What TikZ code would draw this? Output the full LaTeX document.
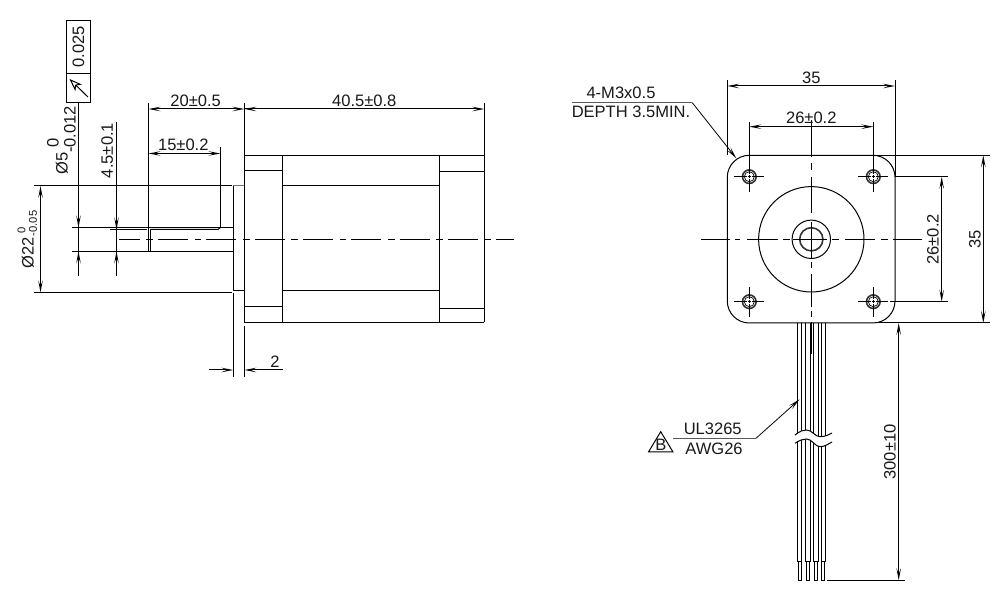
\documentclass[tikz,border=0pt]{standalone}
\usepackage{fontspec}
\setmainfont{Liberation Sans}
\usetikzlibrary{arrows.meta,calc}
\tikzset{
  x=0.75pt,y=-0.75pt,
  ln/.style={line width=0.75pt,black},
  endtip/.style={ln,-{Stealth[length=9pt,width=3.4pt,inset=4pt,open]}},
  dim/.style={ln,{Stealth[length=9pt,width=3.4pt,inset=4pt,open]}-{Stealth[length=9pt,width=3.4pt,inset=4pt,open]}},
  cl/.style={ln,dash pattern=on 22.5pt off 5pt on 5pt off 3.75pt},
  lab/.style={inner sep=0pt,font=\fontsize{12.4}{14}\selectfont,text=black!90},
  rlab/.style={lab,rotate=90},
  small/.style={font=\fontsize{8.4}{10}\selectfont},
}
\begin{document}
\begin{tikzpicture}
\useasboundingbox (0,0) rectangle (1007,609);
\fill[white] (0,0) rectangle (1007,609);

% ---------- side view points
\foreach \n/\x/\y in {
  e20a/148.5/103, e20b/148.5/251.3, e15a/220.5/147, e15b/220.5/227.5,
  eFa/244.4/103, eFb/244.4/155.3, eRa/484.3/103, eRb/484.3/322.3,
  e5a/78.5/103, e5b/78.5/275.7, e45a/116.5/122, e45b/116.5/275.7,
  d20a/148.5/109, d20b/244.4/109, d40b/484.3/109, d40o/257/109,
  d15a/148.5/153.5, d15b/220.5/153.5,
  dia22a/34/186, dia22b/232/186, dia22c/34/292.5, dia22d/232/292.5,
  d22a/40.5/186, d22b/40.5/292.5,
  sfa/72/227.5, sfb/233.3/227.5, sfc/72/251.3, sfd/233.3/251.3,
  kwa/110/229.5, kwb/146.5/229.5, kwc/151/229.5, kwd/218/229.5,
  clsA/119/239.4, clsB/514/239.4,
  d5t/78.5/227.5, d5u/78.5/205, d5v/78.5/251.3, d5w/78.5/273,
  d45t/116.5/229.5, d45u/116.5/205, d45v/116.5/251.3, d45w/116.5/273,
  p2a/233.3/293, p2b/233.3/376.6, f2a/244.4/326, f2b/244.4/376.6,
  d2L/209/370, d2a/233.3/370, d2b/244.4/370, d2R/283/370,
  ta/88/97, tb/69.5/79
}{\coordinate (\n) at (\x,\y);}

% tolerance frame
\node[draw,ln,minimum width=18pt,minimum height=39.4pt,inner sep=0pt] (tolA) at (78.5,47) {};
\node[draw,ln,minimum width=18pt,minimum height=22.1pt,inner sep=0pt] (tolB) at (78.5,88.2) {};
\node[rlab] (tolT) at (78.5,47) {0.025};
\draw[ln,-{Stealth[length=9.5pt,width=7pt,inset=2.5pt,open]}] (ta) -- (tb);

% extension lines
\draw[ln] (e5a) -- (e5b);
\draw[ln] (e45a) -- (e45b);
\draw[ln] (e20a) -- (e20b);
\draw[ln] (e15a) -- (e15b);
\draw[ln] (eFa) -- (eFb);
\draw[ln] (eRa) -- (eRb);
\draw[ln] (dia22a) -- (dia22b);
\draw[ln] (dia22c) -- (dia22d);
\draw[ln] (p2a) -- (p2b);
\draw[ln] (f2a) -- (f2b);

% dimensions
\draw[dim] (d20a) -- (d20b);
\draw[dim] (d20b) -- (d40b);
\draw[ln] (d20b) -- (d40o);
\draw[dim] (d15a) -- (d15b);
\draw[dim] (d22a) -- (d22b);
\draw[endtip] (d5u) -- (d5t);
\draw[endtip] (d5w) -- (d5v);
\draw[endtip] (d45u) -- (d45t);
\draw[endtip] (d45w) -- (d45v);
\draw[endtip] (d2L) -- (d2a);
\draw[endtip] (d2R) -- (d2b);

% shaft
\draw[ln] (sfa) -- (sfb);
\draw[ln] (sfc) -- (sfd);
\draw[ln] (kwa) -- (kwb);
\draw[ln] (kwc) -- (kwd) -- (e15b);
\draw[ln] (150.8,229.5) -- (150.8,251.3);
% pilot
\draw[ln] (244.4,291) -- (233.3,291) -- (233.3,186);
\draw[line width=0.75pt,black!55] (233.3,186) -- (244.4,186);
% body
\draw[ln] (244.4,155.3) -- (484.3,155.3);
\draw[ln] (244.4,322.3) -- (484.3,322.3);
\draw[ln] (244.4,155.3) -- (244.4,322.3);
\draw[ln] (282.3,155.3) -- (282.3,322.3);
\draw[ln] (439.3,155.3) -- (439.3,322.3);
\draw[ln] (244.4,170.3) -- (282.3,170.3);
\draw[ln] (244.4,306.3) -- (282.3,306.3);
\draw[ln] (282.3,185.3) -- (439.3,185.3);
\draw[ln] (282.3,290.5) -- (439.3,290.5);
\draw[ln] (439.3,171.3) -- (484.3,171.3);
\draw[ln] (439.3,308.3) -- (484.3,308.3);
\draw[cl,dash phase=7pt] (clsA) -- (clsB);

% side labels
\node[lab] (t20) at (195.7,100.7) {20±0.5};
\node[lab] (t15) at (183.3,145.3) {15±0.2};
\node[lab] (t40) at (364.3,101) {40.5±0.8};
\node[lab] (t2) at (275,362) {2};
\node[rlab] (t45) at (107.3,150.5) {4.5±0.1};
\node[rlab] (t5a) at (62,163.5) {Ø5};
\node[rlab] (t5b) at (53,143) {0};
\node[rlab] (t5c) at (70,129.5) {-0.012};
\node[rlab] (t22a) at (28,253) {Ø22};
\node[rlab,small] (t22b) at (21.5,230) {0};
\node[rlab,small] (t22c) at (33,223.5) {-0.05};

% ---------- front view
\coordinate (c) at (811.3,239.3);
\foreach \n/\x/\y in {h1/749.3/176.7,h2/873.3/176.7,h3/749.3/301.7,h4/873.3/301.7}{
  \coordinate (\n) at (\x,\y);
  \draw[line width=1.2pt,black!80] (\n) circle[radius=6.8];
  \draw[line width=0.5pt] (\n) circle[radius=5];
  \draw[ln] ($(\n)+(-15,0)$) -- ++(12.5,0) ++(5,0) -- ++(12.5,0);
  \draw[line width=0.5pt] ($(\n)+(-1.8,0)$) -- ++(3.6,0);
  \draw[line width=0.5pt] ($(\n)+(0,-1.8)$) -- ++(0,3.6);
  \draw[ln] ($(\n)+(0,-2.5)$) -- ++(0,-12.5);
  \draw[ln] ($(\n)+(0,2.5)$) -- ++(0,12.5);
}
\foreach \n/\x/\y in {
  xa/727.3/80, xb/727.3/155.3, xc/895/80, xd/895/176.7,
  ya/749.3/121.7, yb/749.3/165, yc/873.3/121.7, yd/873.3/165,
  da/727.3/86, db/895/86, dc/749.3/126.7, dd/873.3/126.7,
  ha/895/176.7, hb/947.7/176.7, hc/890/301.7, hd/947.7/301.7,
  ia/941.7/176.7, ib/941.7/301.7,
  ja/875/155.3, jb/990/155.3, jc/875/323, jd/990/323,
  ka/983.3/155.3, kb/983.3/323,
  la/572/102.7, lb/692.3/102.7, lc/736.3/158.3,
  ma/673.3/438.3, mb/756/438.3, mc/799.6/399.3,
  na/827/580.3, nb/905/580.3, oa/898.7/323, ob/898.7/580.3
}{\coordinate (\n) at (\x,\y);}

% flange and bore
\draw[ln,rounded corners=16.5pt] (727.3,155.3) rectangle (895,323);
\draw[ln] (c) circle[radius=52.7];
\draw[ln] (c) circle[radius=19.2];
\draw[line width=1.2pt,black!80] (c) circle[radius=11.6];
% centre lines, segment by segment as printed
\foreach \a/\b in {701/730,735/740,746.7/777.7,783/790,793/827,832/839,845/875,881/888,893/922}{
  \draw[ln] (\a,239.3) -- (\b,239.3);
}
\foreach \a/\b in {120/157,163/170,176.7/213,221.7/258,262/268,274/307,311/317,322/354}{
  \draw[ln] (811.3,\a) -- (811.3,\b);
}

% front extension lines and dimensions
\draw[ln] (xa) -- (xb);
\draw[ln] (xc) -- (xd);
\draw[ln] (ya) -- (yb);
\draw[ln] (yc) -- (yd);
\draw[dim] (da) -- (db);
\draw[dim] (dc) -- (dd);
\draw[ln] (ha) -- (hb);
\draw[ln] (hc) -- (hd);
\draw[dim] (ia) -- (ib);
\draw[ln] (ja) -- (jb);
\draw[ln] (jc) -- (jd);
\draw[dim] (ka) -- (kb);
\draw[dim] (oa) -- (ob);
\draw[ln] (na) -- (nb);

% leads
\foreach \a/\b/\p/\q in {797.3/801.7/798.3/801.7, 805.3/810.3/806/809, 813.3/818.3/814/817, 821/825.7/821.7/824.7}{
  \draw[ln] (\a,323) -- (\a,561.3) -- (\b,561.3) -- (\b,323);
  \draw[ln] (\p,561.3) -- (\p,580.3) -- (\q,580.3) -- (\q,561.3);
}
\fill[white] (795,435) .. controls (800,431) and (803,430) .. (806.7,430) .. controls (812,430) and (815,436.7) .. (820,436.7) .. controls (825,436.7) and (828,435) .. (832,433)
  -- (832,442) .. controls (828,444) and (825,446.7) .. (820,446.7) .. controls (815,446.7) and (812,439) .. (806.7,439) .. controls (803,439) and (800,440) .. (795,443.3) -- cycle;
\draw[ln] (795,435) .. controls (800,431) and (803,430) .. (806.7,430) .. controls (812,430) and (815,436.7) .. (820,436.7) .. controls (825,436.7) and (828,435) .. (832,433);
\draw[ln] (795,443.3) .. controls (800,440) and (803,439) .. (806.7,439) .. controls (812,439) and (815,446.7) .. (820,446.7) .. controls (825,446.7) and (828,444) .. (832,442);

% leaders
\draw[line width=0.9pt,black!65] (la) -- (lb);
\draw[endtip,line width=0.6pt] (lb) -- (lc);
\draw[line width=0.9pt,black!65] (ma) -- (mb);
\draw[endtip,line width=0.6pt] (mb) -- (mc);
\coordinate (tra) at (660.7,431.7); \coordinate (trb) at (648.5,452); \coordinate (trc) at (673,452);
\draw[ln,line join=miter] (tra) -- (trb) -- (trc) -- cycle;

% front labels
\node[lab] (tm3) at (621,93) {4-M3x0.5};
\node[lab] (tdp) at (631,112) {DEPTH 3.5MIN.};
\node[lab] (t35t) at (811.3,78) {35};
\node[lab] (t26t) at (811.3,118) {26±0.2};
\node[rlab] (t26r) at (933,239.3) {26±0.2};
\node[rlab] (t35r) at (975,239.3) {35};
\node[rlab] (t300) at (890,452) {300±10};
\node[lab] (tul) at (712.7,428.7) {UL3265};
\node[lab] (tawg) at (714,449) {AWG26};
\node[lab] (tB) at (661,445) {B};
\end{tikzpicture}
\end{document}
